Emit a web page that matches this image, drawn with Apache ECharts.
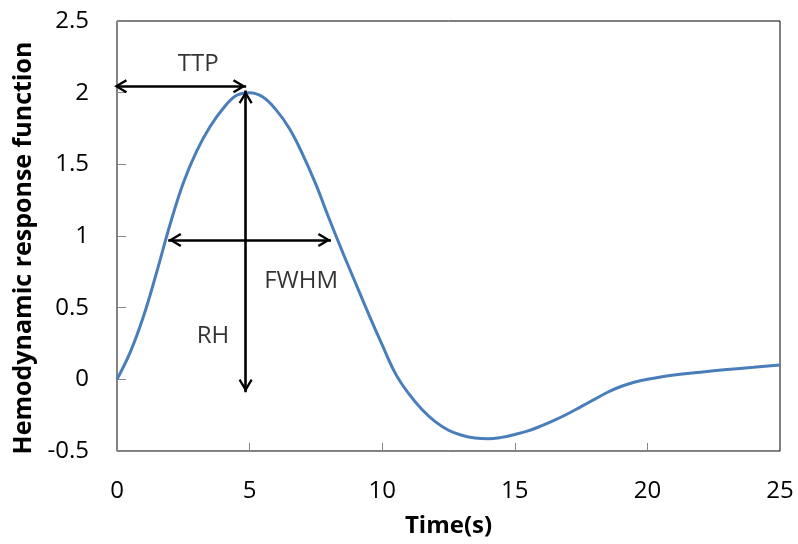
<!DOCTYPE html>
<html>
<head>
<meta charset="utf-8">
<script src="https://cdn.jsdelivr.net/npm/echarts@6/dist/echarts.min.js"></script>
<style>html,body{margin:0;padding:0;background:#fff;}#c{width:798px;height:544px;}</style>
</head>
<body>
<div id="c"></div>
<script>
// Data
const times = [0,0.5,1,1.5,2,2.5,3,3.5,4,4.5,5,5.5,6,6.5,7,7.5,8,8.5,9,9.5,10,10.5,11,11.5,12,12.5,13,13.5,14,14.5,15,15.5,16,16.5,17,17.5,18,18.5,19,19.5,20,21,22,23,24,25];
const hrf   = [0,0.19,0.44,0.75,1.08,1.37,1.59,1.76,1.89,1.98,2.0,1.97,1.88,1.75,1.57,1.36,1.12,0.89,0.67,0.45,0.24,0.04,-0.1,-0.21,-0.295,-0.355,-0.39,-0.41,-0.415,-0.405,-0.385,-0.36,-0.325,-0.285,-0.24,-0.19,-0.14,-0.09,-0.05,-0.02,0.0,0.03,0.05,0.068,0.084,0.1];
const xTicks = [0,5,10,15,20,25];
const yTicks = [-0.5,0,0.5,1,1.5,2,2.5];
// Annotation arrows (data coordinates of the arrow tips)
const ttpArrow  = [[0, 2.045], [4.87, 2.045]];
const rhArrow   = [[4.85, 2.015], [4.85, -0.09]];
const fwhmArrow = [[1.93, 0.972], [8.07, 0.972]];
// Annotation labels
const annoLabels = [
  {name: 'TTP',  value: [3.06, 2.2]},
  {name: 'FWHM', value: [6.94, 0.686]},
  {name: 'RH',   value: [3.62, 0.302]}
];

const FONT = '"Open Sans", Calibri, sans-serif';
// open chevron with its tip at the centre of the symbol box (tiny invisible point extends the box)
const chevron = 'path://M10,0 L20,17 L17.2,19 L10,6.4 L2.8,19 L0,17 Z M9.95,-20 L10.05,-20 L10,-19.95 Z';
const chevronStart = 'path://M10,0 L20,17 L17.2,19 L10,6.4 L2.8,19 L0,17 Z M9.95,-10.6 L10.05,-10.6 L10,-10.55 Z';

function arrowLine(pts, startSym) {
  const a = {coord: pts[0]};
  if (startSym) { a.symbol = startSym; a.symbolSize = [14, 20.3]; }
  return [a, {coord: pts[1]}];
}

const chart = echarts.init(document.getElementById('c'));
chart.setOption({
  animation: false,
  backgroundColor: '#fff',
  grid: {left: 117, right: 18, top: 21, bottom: 93, show: true, borderColor: '#000', borderWidth: 1},
  xAxis: {
    type: 'value', min: xTicks[0], max: xTicks[xTicks.length-1], interval: 5,
    name: 'Time(s)', nameLocation: 'middle', nameGap: 63,
    nameTextStyle: {fontFamily: FONT, fontWeight: 'bold', fontSize: 24, color: '#000'},
    axisLine: {show: true, onZero: false, lineStyle: {color: '#868686', width: 1}},
    axisTick: {show: true, inside: true, length: 8, lineStyle: {color: '#868686'}},
    axisLabel: {fontFamily: FONT, fontSize: 24, color: '#000', margin: 28},
    splitLine: {show: false}
  },
  yAxis: {
    type: 'value', min: yTicks[0], max: yTicks[yTicks.length-1], interval: 0.5,
    name: 'Hemodynamic response function', nameLocation: 'middle', nameGap: 78,
    nameTextStyle: {fontFamily: FONT, fontWeight: 'bold', fontSize: 25, color: '#000', padding: [0, 24, 0, 0]},
    axisLine: {show: true, lineStyle: {color: '#868686', width: 1}},
    axisTick: {show: true, inside: true, length: 9, lineStyle: {color: '#868686'}},
    axisLabel: {fontFamily: FONT, fontSize: 24, color: '#000', margin: 28},
    splitLine: {show: false}
  },
  series: [
    {
      type: 'line', data: times.map((t, i) => [t, hrf[i]]),
      smooth: 0.4, showSymbol: false, symbol: 'none',
      lineStyle: {color: '#4A7EBB', width: 3},
      z: 3
    },
    {
      type: 'scatter', data: annoLabels, symbolSize: 0, silent: true,
      label: {show: true, position: 'inside', formatter: p => p.name, fontFamily: FONT, fontSize: 24, color: '#000'},
      markLine: {
        silent: true, symbol: [chevron, chevron], symbolSize: [14, 26.7],
        lineStyle: {color: '#000', width: 2.6, type: 'solid'},
        label: {show: false},
        data: [arrowLine(ttpArrow, chevronStart), arrowLine(rhArrow), arrowLine(fwhmArrow)]
      },
      z: 4
    }
  ]
});
</script>
</body>
</html>
